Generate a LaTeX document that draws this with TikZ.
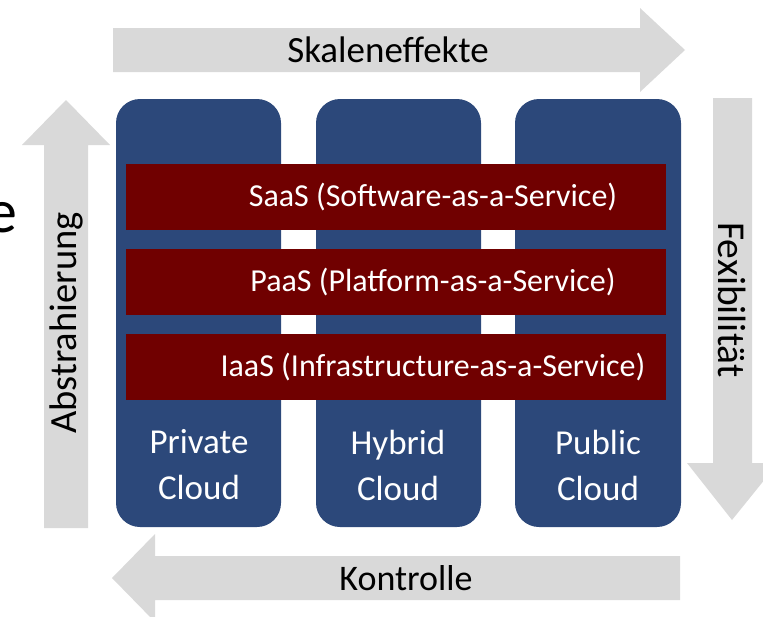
\documentclass[tikz,border=0pt]{standalone}
\usepackage{fontspec}
\setmainfont{Carlito}
\definecolor{colblue}{RGB}{44,72,122}
\definecolor{barred}{RGB}{112,0,0}
\definecolor{arrgray}{RGB}{217,217,217}
\begin{document}
\begin{tikzpicture}[x=1pt,y=-1pt,
  column/.style={fill=colblue,rounded corners=24pt},
  bar/.style={fill=barred},
  bigarrow/.style={fill=arrgray,draw=none},
  bartext/.style={text=white,font=\fontsize{32}{38}\selectfont,inner sep=0pt},
  coltext/.style={text=white,font=\fontsize{35}{46}\selectfont,align=center,inner sep=0pt},
  arrtext/.style={text=black,inner sep=0pt}]
\useasboundingbox (0,0) rectangle (763,616);
% partial letter at left edge
\node[anchor=base east,inner sep=0pt,font=\fontsize{62}{70}\selectfont] (edge) at (18,232) {e};
% arrows
\fill[bigarrow] (113,28) -- (640,28) -- (640,8) -- (685,50) -- (640,92) -- (640,72) -- (113,72) -- cycle;
\node[arrtext,font=\fontsize{37}{44}\selectfont] (skal) at (388,50) {Skaleneffekte};
\fill[bigarrow] (680,556) -- (155,556) -- (155,534) -- (112,578) -- (155,622) -- (155,600) -- (680,600) -- cycle;
\node[arrtext,font=\fontsize{36}{43}\selectfont] (kontr) at (406,578) {Kontrolle};
\fill[bigarrow] (44,528) -- (88,528) -- (88,145) -- (110,145) -- (66,100) -- (22,145) -- (44,145) -- cycle;
\node[arrtext,font=\fontsize{38.5}{46}\selectfont,rotate=90] (abstr) at (66,323) {Abstrahierung};
\fill[bigarrow] (713,98) -- (752,98) -- (752,463) -- (778,463) -- (732,520) -- (687,463) -- (713,463) -- cycle;
\node[arrtext,font=\fontsize{39.5}{47}\selectfont,rotate=-90] (flex) at (732,300) {Fexibilität};
% columns
\fill[column] (116,99) rectangle (281,527);
\fill[column] (316,99) rectangle (481,527);
\fill[column] (515,99) rectangle (681,527);
% bars
\fill[bar] (126,164) rectangle (666,230);
\fill[bar] (126,249) rectangle (666,315);
\fill[bar] (126,334) rectangle (666,400);
\node[bartext] (saas) at (433,197) {SaaS (Software-as-a-Service)};
\node[bartext] (paas) at (433,282) {PaaS (Platform-as-a-Service)};
\node[bartext] (iaas) at (433,367) {IaaS (Infrastructure-as-a-Service)};
% column labels
\node[coltext] (priv) at (199,465) {Private\\Cloud};
\node[coltext] (hyb) at (398,465) {Hybrid\\Cloud};
\node[coltext] (pub) at (598,465) {Public\\Cloud};
\end{tikzpicture}
\end{document}
